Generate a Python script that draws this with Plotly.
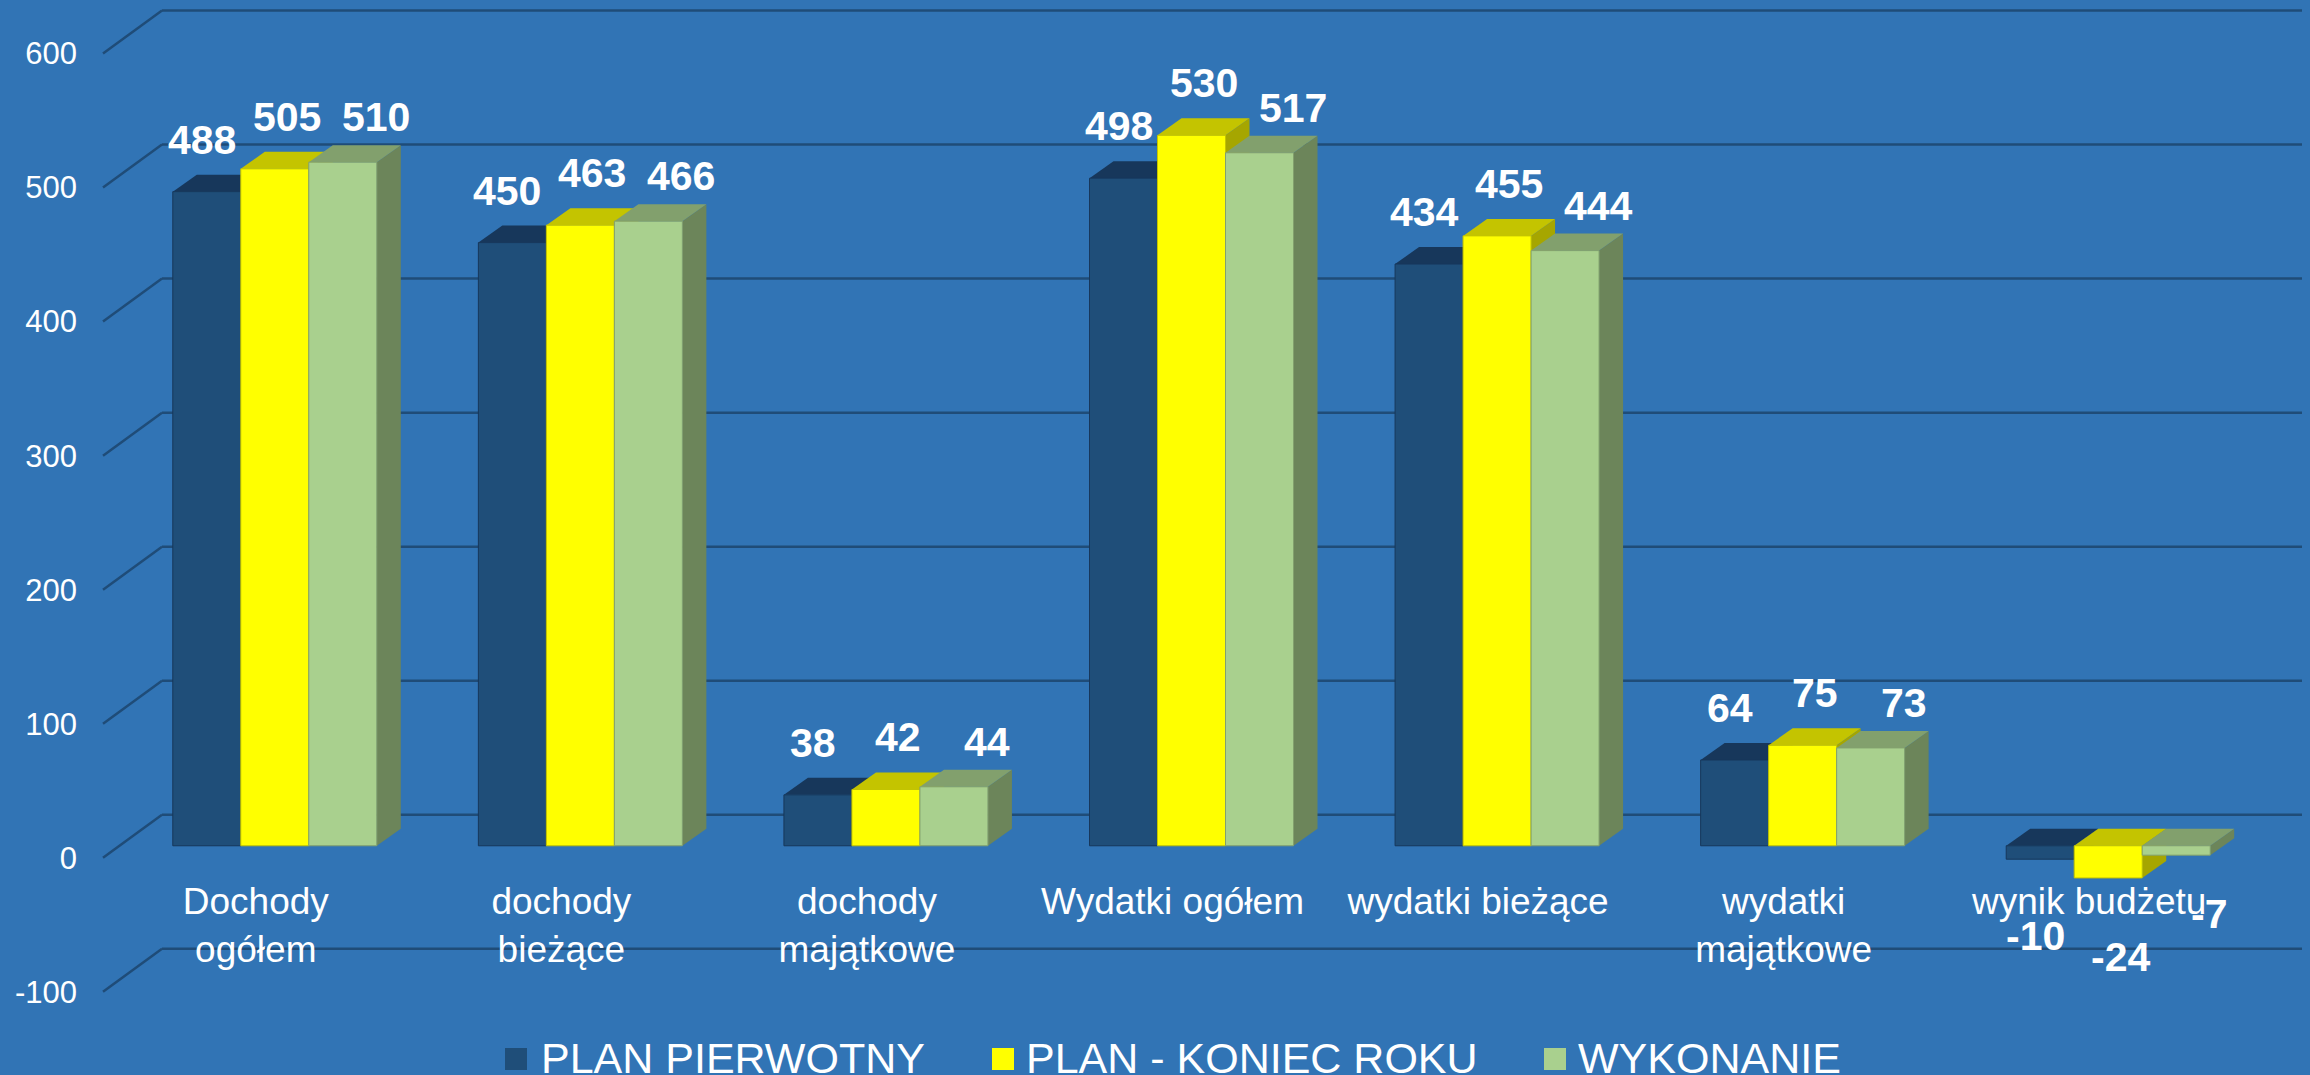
import plotly.graph_objects as go

# --------------------------------------------------------------------------- #
# Data
# --------------------------------------------------------------------------- #

categories = [
    "Dochody<br>ogółem",
    "dochody<br>bieżące",
    "dochody<br>majątkowe",
    "Wydatki ogółem",
    "wydatki bieżące",
    "wydatki<br>majątkowe",
    "wynik budżetu",
]
series_names = ["PLAN PIERWOTNY", "PLAN - KONIEC ROKU", "WYKONANIE"]
plan_pierwotny = [488, 450, 38, 498, 434, 64, -10]
plan_koniec_roku = [505, 463, 42, 530, 455, 75, -24]
wykonanie = [510, 466, 44, 517, 444, 73, -7]
y_ticks = [-100, 0, 100, 200, 300, 400, 500, 600]
y_tick_labels = ["-100", "0", "100", "200", "300", "400", "500", "600"]

# --------------------------------------------------------------------------- #
# Styling / pseudo-3D geometry
# --------------------------------------------------------------------------- #

W, H = 2310, 1075
ML, MR, MT, MB = 122, 49, 8, 0
PLOT_W = W - ML - MR
PLOT_H = H - MT - MB
Y_RANGE = [-171, 625]
PX_PER_UNIT = PLOT_H / (Y_RANGE[1] - Y_RANGE[0])
PX_PER_CAT = PLOT_W / len(categories)

BAR_W = 68 / PX_PER_CAT
DEPTH_X = 24 / PX_PER_CAT
DEPTH_Y = 17 / PX_PER_UNIT
FRONT_DROP = 12 / PX_PER_UNIT  # tick labels sit on the floor's front edge
FLOOR_Y = 43 / PX_PER_UNIT  # floor depth, front edge -> back wall
FRONT_SHIFT_X = 19 / PX_PER_CAT  # category labels sit on the front edge too

BG = "#3174B5"
GRID = "#1F4C78"
FONT = "Arial, Liberation Sans, sans-serif"

front_colors = ["#1F4E79", "#FFFF00", "#A9D08E"]
top_colors = ["#17375B", "#C4C400", "#82A06D"]
side_colors = ["#1A4166", "#A6A600", "#6C855A"]
label_dx_px = [-5, 12, 33]
label_up_px = [27, 27, 20]
label_down_px = [-52, -54, -34]


def px_x(px):
    return (px - ML) / PLOT_W


def px_y(py):
    return (H - MB - py) / PLOT_H


all_series = [plan_pierwotny, plan_koniec_roku, wykonanie]
x_idx = list(range(len(categories)))

fig = go.Figure()
for j, (name, vals) in enumerate(zip(series_names, all_series)):
    fig.add_trace(
        go.Bar(
            name=name,
            x=x_idx,
            y=vals,
            marker_color=front_colors[j],
            marker_line=dict(color=top_colors[j], width=1),
            showlegend=False,
            hoverinfo="x+y",
        )
    )

shapes = []

# back-wall grid with the floor-edge diagonals
for t in y_ticks:
    shapes.append(
        dict(type="line", xref="paper", yref="y2", x0=px_x(103), x1=px_x(162),
             y0=t, y1=t + FLOOR_Y, line=dict(color=GRID, width=2.5), layer="below")
    )
    shapes.append(
        dict(type="line", xref="paper", yref="y2", x0=px_x(162), x1=px_x(2302),
             y0=t + FLOOR_Y, y1=t + FLOOR_Y, line=dict(color=GRID, width=2.5),
             layer="below")
    )

# top and side faces of every bar
annotations = []
for j, vals in enumerate(all_series):
    offset = (j - 1) * BAR_W
    for k, v in enumerate(vals):
        x0 = k + offset - BAR_W / 2
        x1 = k + offset + BAR_W / 2
        lo, hi = min(v, 0), max(v, 0)
        side = (f"M{x1},{lo} L{x1},{hi} L{x1 + DEPTH_X},{hi + DEPTH_Y} "
                f"L{x1 + DEPTH_X},{lo + DEPTH_Y} Z")
        top = (f"M{x0},{hi} L{x1},{hi} L{x1 + DEPTH_X},{hi + DEPTH_Y} "
               f"L{x0 + DEPTH_X},{hi + DEPTH_Y} Z")
        shapes.append(dict(type="path", path=side, xref="x", yref="y",
                           fillcolor=side_colors[j], line=dict(width=0), layer="below"))
        shapes.append(dict(type="path", path=top, xref="x", yref="y",
                           fillcolor=top_colors[j], line=dict(width=0), layer="below"))

        annotations.append(
            dict(
                x=k + offset + label_dx_px[j] / PX_PER_CAT,
                y=v,
                xref="x",
                yref="y",
                text=str(v),
                showarrow=False,
                xanchor="center",
                yanchor="bottom" if v >= 0 else "top",
                yshift=label_up_px[j] if v >= 0 else label_down_px[j],
                font=dict(family=FONT, size=41, color="white", weight="bold"),
            )
        )

# hand-drawn legend (larger swatches than plotly's own)
legend_sq_px = [505, 992, 1544]
legend_txt_px = [539, 1024, 1576]
for j, name in enumerate(series_names):
    shapes.append(
        dict(type="rect", xref="paper", yref="paper",
             x0=px_x(legend_sq_px[j]), x1=px_x(legend_sq_px[j] + 22),
             y0=px_y(1070), y1=px_y(1048),
             fillcolor=front_colors[j], line=dict(width=0))
    )
    annotations.append(
        dict(x=px_x(legend_txt_px[j]), y=px_y(1058), xref="paper", yref="paper",
             text=name, showarrow=False, xanchor="left", yanchor="middle",
             font=dict(family=FONT, size=43, color="white"))
    )

fig.update_layout(
    width=W,
    height=H,
    margin=dict(l=ML, r=MR, t=MT, b=MB, pad=0),
    paper_bgcolor=BG,
    plot_bgcolor=BG,
    barmode="group",
    bargap=1 - 3 * BAR_W,
    bargroupgap=0,
    showlegend=False,
    shapes=shapes,
    annotations=annotations,
    font=dict(family=FONT, color="white"),
    xaxis=dict(
        range=[-0.5, len(categories) - 0.5],
        tickvals=[i - FRONT_SHIFT_X for i in x_idx],
        ticktext=categories,
        anchor="free",
        position=px_y(858),
        showgrid=False,
        zeroline=False,
        showline=False,
        ticks="",
        ticklabelstandoff=18,
        tickfont=dict(family=FONT, size=37, color="white"),
    ),
    yaxis=dict(
        range=Y_RANGE,
        showgrid=False,
        zeroline=False,
        showticklabels=False,
        ticks="",
    ),
    yaxis2=dict(
        range=[Y_RANGE[0] + FRONT_DROP, Y_RANGE[1] + FRONT_DROP],
        overlaying="y",
        side="left",
        tickvals=y_ticks,
        ticktext=y_tick_labels,
        showgrid=False,
        zeroline=False,
        ticks="",
        ticklabelstandoff=44,
        tickfont=dict(family=FONT, size=31, color="white"),
    ),
)

fig.write_html(
    "out.html",
    config={"displayModeBar": False},
    post_script="document.body.style.margin='0';document.body.style.background='#3174B5';",
)
